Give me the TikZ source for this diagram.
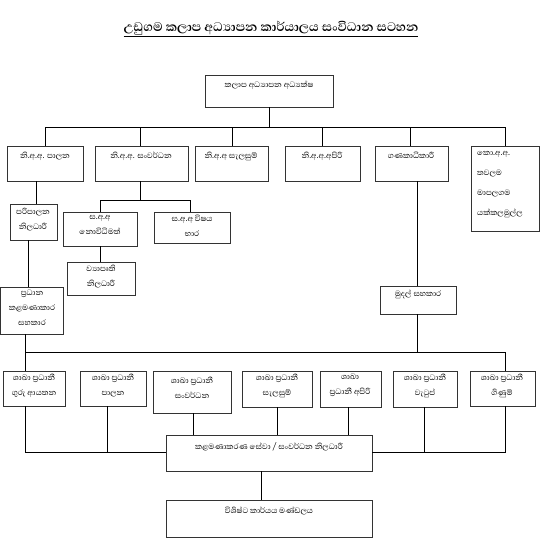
\documentclass[tikz,border=0pt]{standalone}
\usepackage{fontspec}
\newfontfamily\sinhfont[Script=Sinhala]{Abhaya Libre}
\usetikzlibrary{calc}
\newcommand\obox[5]{\node[bx,anchor=north west,minimum width={#4pt-#2pt},minimum height={#5pt-#3pt}] (#1) at (#2,#3) {};}
\begin{document}
\begin{tikzpicture}[x=1pt,y=-1pt,
  bx/.style={draw=black!80,line width=0.8pt,inner sep=0pt,outer sep=0pt,fill=white},
  tx/.style={font=\sinhfont\fontsize{10}{15}\selectfont,align=center,inner sep=0pt,anchor=north},
  ln/.style={line width=0.8pt,black}]
\useasboundingbox (0,0) rectangle (544,557);
\node[font=\sinhfont\bfseries\fontsize{16}{18}\selectfont,inner sep=0pt] (title) at (271,29) {\underline{උඩුගම කලාප අධ්^^^^200dයාපන කාර්යාලය සංවිධාන සටහන}};

% boxes
\obox{top}{205}{75}{333}{107}
\obox{A}{7}{146}{83}{181}
\obox{B}{95}{146}{188}{181}
\obox{C}{195}{146}{268}{181}
\obox{D}{285}{146}{360}{181}
\obox{E}{375}{146}{448}{181}
\obox{F}{471}{146}{539}{231}
\obox{P}{10}{204}{57}{240}
\obox{Q}{0}{287}{63}{334}
\obox{R}{63}{212}{137}{246}
\obox{S}{154}{212}{230}{243}
\obox{T}{67}{262}{135}{295}
\obox{U}{380}{286}{456}{314}
\obox{r1}{3}{371}{65}{406}
\obox{r2}{80}{371}{146}{406}
\obox{r3}{153}{371}{231}{413}
\obox{r4}{242}{371}{312}{407}
\obox{r5}{320}{371}{381}{407}
\obox{r6}{393}{371}{457}{407}
\obox{r7}{470}{371}{535}{406}
\obox{K}{166}{435}{372}{471}
\obox{L}{166}{500}{372}{537}

% texts
\node[tx] (topt) at (269,81) {කලාප අධ්^^^^200dයාපන අධ්^^^^200dයක්ෂ};
\node[tx] (At) at (45,152) {නි.අ.අ. පාලන};
\node[tx] (Bt) at (141,152) {නි.අ.අ. සංවර්ධන};
\node[tx] (Ct) at (231,152) {නි.අ.අ සැලසුම්};
\node[tx] (Dt) at (322,152) {නි.අ.අ.අපිරි};
\node[tx] (Et) at (411,152) {ගණකාධිකාරී};
\node[tx,anchor=north west,align=left,font=\sinhfont\fontsize{10}{20}\selectfont] (Ft) at (477,151) {කො.අ.අ.\\තවලම\\මාපලගම\\යක්කලමුල්ල};
\node[tx] (Pt) at (33,208) {පරිපාලන\\නිලධාරී};
\node[tx] (Qt) at (32,290) {ප්^^^^200dරධාන\\කළමණාකාර\\සහකාර};
\node[tx] (Rt) at (100,215) {ස.අ.අ\\නොවිධිමත්};
\node[tx] (St) at (192,215) {ස.අ.අ විෂය\\භාර};
\node[tx] (Tt) at (101,265) {ව්^^^^200dයාපෘති\\නිලධාරී};
\node[tx] (Ut) at (418,290) {මුදල් සහකාර};
\node[tx] (r1t) at (34,374) {ශාඛා ප්^^^^200dරධානී\\ගුරු ආයතන};
\node[tx] (r2t) at (113,374) {ශාඛා ප්^^^^200dරධානී\\පාලන};
\node[tx] (r3t) at (192,377) {ශාඛා ප්^^^^200dරධානී\\සංවර්ධන};
\node[tx] (r4t) at (277,374) {ශාඛා ප්^^^^200dරධානී\\සැලසුම්};
\node[tx] (r5t) at (350,374) {ශාඛා\\ප්^^^^200dරධානී අපිරි};
\node[tx] (r6t) at (425,374) {ශාඛා ප්^^^^200dරධානී\\වැටුප්};
\node[tx] (r7t) at (502,374) {ශාඛා ප්^^^^200dරධානී\\ගිණුම්};
\node[tx] (Kt) at (269,442) {කළමණාකරණ සේවා / සංවර්ධන නිලධාරී};
\node[tx] (Lt) at (269,507) {විශිෂ්ට කාර්යය මණ්ඩලය};

% junction coordinates
\coordinate (b1L) at (45,127);
\coordinate (b1R) at (505,127);
\coordinate (xB) at (140,127);
\coordinate (xC) at (232,127);
\coordinate (xD) at (322,127);
\coordinate (xE) at (410,127);
\coordinate (xAP) at (36,0);
\coordinate (xPQ) at (28,0);
\coordinate (xQ) at (25,0);
\coordinate (sbL) at (100,200);
\coordinate (sbR) at (190,200);
\coordinate (xU) at (417,0);
\coordinate (b2L) at (25,352);
\coordinate (b2R) at (505,352);
\coordinate (x2) at (107,0);
\coordinate (x3) at (193,0);
\coordinate (x4) at (277,0);
\coordinate (x5) at (348,0);
\coordinate (x6) at (424,0);
\coordinate (mL) at (25,452);
\coordinate (mR) at (505,452);
\coordinate (xK) at (261,0);

% connectors
\begin{scope}[ln]
\draw (top.south) -- (top.south |- b1L);
\draw (b1L) -- (b1R);
\draw (b1L) -- (b1L |- A.north);
\draw (xB) -- (xB |- B.north);
\draw (xC) -- (xC |- C.north);
\draw (xD) -- (xD |- D.north);
\draw (xE) -- (xE |- E.north);
\draw (b1R) -- (b1R |- F.north);
\draw (A.south -| xAP) -- (P.north -| xAP);
\draw (P.south -| xPQ) -- (Q.north -| xPQ);
\draw (Q.south -| xQ) -- (r1.north -| xQ);
\draw (B.south -| xB) -- (sbL -| xB);
\draw (sbL) -- (sbR);
\draw (sbL) -- (sbL |- R.north);
\draw (sbR) -- (sbR |- S.north);
\draw (R.south -| sbL) -- (T.north -| sbL);
\draw (E.south -| xU) -- (U.north -| xU);
\draw (U.south -| xU) -- (b2L -| xU);
\draw (b2L) -- (b2R);
\draw (b2R) -- (b2R |- r7.north);
\draw (r1.south -| mL) -- (mL) -- (mL -| K.west);
\draw (r2.south -| x2) -- (mL -| x2);
\draw (r3.south -| x3) -- (K.north -| x3);
\draw (r4.south -| x4) -- (K.north -| x4);
\draw (r5.south -| x5) -- (K.north -| x5);
\draw (r6.south -| x6) -- (mR -| x6);
\draw (r7.south -| mR) -- (mR) -- (mR -| K.east);
\draw (K.south -| xK) -- (L.north -| xK);
\end{scope}
\end{tikzpicture}
\end{document}
